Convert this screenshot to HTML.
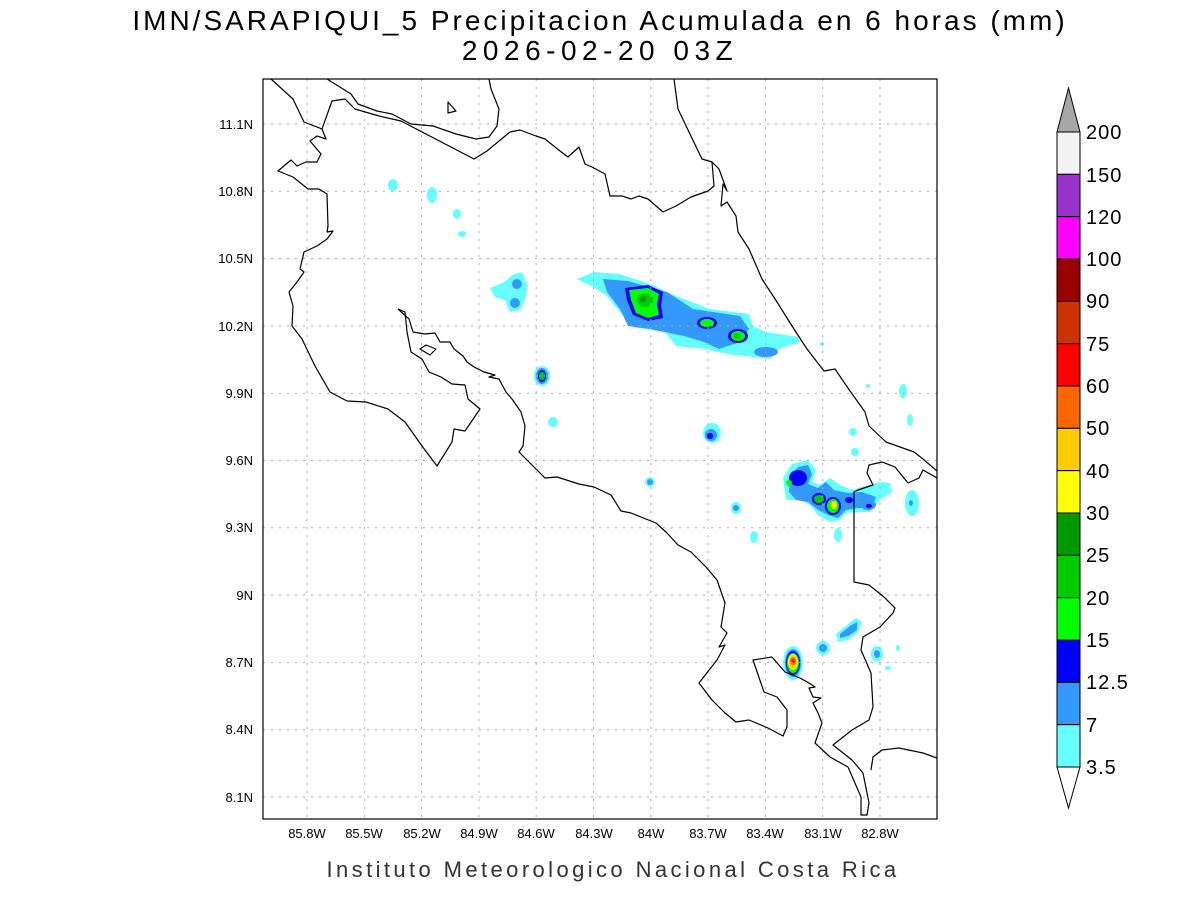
<!DOCTYPE html>
<html><head><meta charset="utf-8"><style>
html,body{margin:0;padding:0;background:#fff;}
svg{display:block;}
text{font-family:"Liberation Sans",sans-serif;}
</style></head><body>
<svg width="1200" height="900" viewBox="0 0 1200 900" xmlns="http://www.w3.org/2000/svg">
<rect width="1200" height="900" fill="#fff"/>
<text x="600" y="30" font-size="28" text-anchor="middle" letter-spacing="3">IMN/SARAPIQUI_5 Precipitacion Acumulada en 6 horas (mm)</text>
<text x="600" y="60" font-size="28" text-anchor="middle" letter-spacing="5.5">2026-02-20 03Z</text>

<defs><clipPath id="c"><rect x="263" y="79" width="674" height="740"/></clipPath></defs>
<g clip-path="url(#c)">
<g stroke="none">
<ellipse cx="393" cy="185" rx="5" ry="6" fill="#66ffff"/>
<ellipse cx="432" cy="195" rx="5" ry="8" fill="#66ffff"/>
<ellipse cx="457" cy="214" rx="4" ry="5" fill="#66ffff"/>
<ellipse cx="462" cy="234" rx="4" ry="3" fill="#66ffff"/>
<polygon points="490,288 505,282 512,275 522,272 528,285 525,300 520,310 510,312 505,300 495,297" fill="#66ffff"/>
<ellipse cx="517" cy="284" rx="5" ry="5" fill="#3399ff"/>
<ellipse cx="515" cy="303" rx="5" ry="5" fill="#3399ff"/>
<ellipse cx="542" cy="376" rx="8" ry="10" fill="#66ffff"/>
<ellipse cx="542" cy="376" rx="6" ry="8" fill="#3399ff"/>
<ellipse cx="542" cy="376" rx="4" ry="6" fill="#0000ff"/>
<ellipse cx="542" cy="376" rx="3" ry="4" fill="#00cc00"/>
<ellipse cx="553" cy="422" rx="5" ry="5" fill="#66ffff"/>
<ellipse cx="650" cy="482" rx="5" ry="5" fill="#66ffff"/>
<ellipse cx="650" cy="482" rx="3" ry="3" fill="#3399ff"/>
<ellipse cx="712" cy="433" rx="9" ry="10" fill="#66ffff"/>
<ellipse cx="711" cy="435" rx="6" ry="6" fill="#3399ff"/>
<ellipse cx="710" cy="436" rx="3" ry="3" fill="#0000ff"/>
<ellipse cx="736" cy="508" rx="5" ry="6" fill="#66ffff"/>
<ellipse cx="736" cy="508" rx="3" ry="3" fill="#3399ff"/>
<ellipse cx="754" cy="537" rx="4" ry="6" fill="#66ffff"/>
<polygon points="577,279 594,272 620,274 650,284 676,296 710,309 749,314 753,326 766,332 798,337 800,342 779,349 770,359 753,357 727,354 706,349 676,346 665,332 633,327 620,312 607,296 592,286" fill="#66ffff"/>
<polygon points="603,279 628,281 667,292 693,309 740,316 749,329 740,342 719,349 704,342 684,336 650,329 628,326 620,309 607,292" fill="#3399ff"/>
<ellipse cx="766" cy="352" rx="12" ry="5" fill="#3399ff"/>
<polygon points="625,288 648,285 663,292 661,305 663,318 648,321 633,315 627,300" fill="#0000ff"/>
<polygon points="629,290 648,288 659,294 657,305 659,315 648,318 636,313 631,300" fill="#00ff00"/>
<ellipse cx="645" cy="300" rx="8" ry="7" fill="#00cc00"/>
<ellipse cx="643" cy="299" rx="3" ry="3" fill="#009900"/>
<ellipse cx="707" cy="323" rx="10" ry="6" fill="#0000ff"/>
<ellipse cx="707" cy="323" rx="7" ry="4" fill="#00ff00"/>
<ellipse cx="738" cy="336" rx="10" ry="7" fill="#0000ff"/>
<ellipse cx="738" cy="336" rx="7" ry="5" fill="#00ff00"/>
<ellipse cx="737" cy="336" rx="4" ry="3" fill="#00cc00"/>
<polygon points="783,478 792,464 808,460 816,470 812,482 820,485 830,478 840,485 852,490 868,485 880,482 890,483 892,492 880,500 870,512 858,512 846,513 840,520 830,522 818,515 810,505 800,500 786,500" fill="#66ffff"/>
<polygon points="790,478 798,467 808,465 812,474 808,484 818,488 826,482 834,490 848,493 862,492 876,497 872,508 858,508 846,510 838,518 828,515 818,510 808,502 796,500 789,492" fill="#3399ff"/>
<ellipse cx="798" cy="478" rx="9" ry="8" fill="#0000ff"/>
<ellipse cx="789" cy="483" rx="3" ry="3" fill="#00ff00"/>
<ellipse cx="819" cy="499" rx="7" ry="6" fill="#0000ff"/>
<ellipse cx="819" cy="499" rx="5" ry="4" fill="#00cc00"/>
<ellipse cx="833" cy="506" rx="8" ry="9" fill="#0000ff"/>
<ellipse cx="833" cy="506" rx="6" ry="7" fill="#00ff00"/>
<ellipse cx="834" cy="505" rx="3" ry="4" fill="#ffff00"/>
<ellipse cx="849" cy="500" rx="4" ry="3" fill="#0000ff"/>
<ellipse cx="868" cy="505" rx="8" ry="5" fill="#3399ff"/>
<ellipse cx="869" cy="506" rx="3" ry="2" fill="#0000ff"/>
<ellipse cx="912" cy="503" rx="7" ry="13" fill="#66ffff"/>
<ellipse cx="911" cy="503" rx="2" ry="3" fill="#3399ff"/>
<ellipse cx="885" cy="489" rx="5" ry="4" fill="#66ffff"/>
<ellipse cx="838" cy="535" rx="4" ry="7" fill="#66ffff"/>
<ellipse cx="853" cy="432" rx="4" ry="4" fill="#66ffff"/>
<ellipse cx="855" cy="452" rx="4" ry="4" fill="#66ffff"/>
<ellipse cx="903" cy="391" rx="4" ry="7" fill="#66ffff"/>
<ellipse cx="910" cy="420" rx="3" ry="6" fill="#66ffff"/>
<ellipse cx="868" cy="386" rx="2" ry="2" fill="#66ffff"/>
<ellipse cx="822" cy="344" rx="2" ry="2" fill="#66ffff"/>
<ellipse cx="793" cy="663" rx="10" ry="17" fill="#66ffff"/>
<ellipse cx="793" cy="663" rx="8" ry="14" fill="#3399ff"/>
<ellipse cx="793" cy="663" rx="7" ry="12" fill="#0000ff"/>
<ellipse cx="793" cy="663" rx="6" ry="10" fill="#00ff00"/>
<ellipse cx="793" cy="662" rx="5" ry="8" fill="#ffff00"/>
<ellipse cx="793" cy="662" rx="4" ry="6" fill="#ffcc00"/>
<ellipse cx="793" cy="661" rx="3" ry="4" fill="#ff6600"/>
<ellipse cx="793" cy="661" rx="1.5" ry="2" fill="#ff0000"/>
<polygon points="836,634 848,624 856,618 862,622 858,632 848,640 838,642" fill="#66ffff"/>
<polygon points="840,634 850,626 857,622 857,630 848,636 840,638" fill="#3399ff"/>
<ellipse cx="823" cy="648" rx="7" ry="7" fill="#66ffff"/>
<ellipse cx="823" cy="648" rx="4" ry="4" fill="#3399ff"/>
<ellipse cx="877" cy="654" rx="6" ry="8" fill="#66ffff"/>
<ellipse cx="877" cy="654" rx="3" ry="4" fill="#3399ff"/>
<ellipse cx="888" cy="668" rx="3" ry="2" fill="#66ffff"/>
<ellipse cx="898" cy="648" rx="2" ry="3" fill="#66ffff"/>
</g>

<g stroke="#aaa" stroke-width="1" stroke-dasharray="2,6" fill="none">
<path d="M307,79V819M364.3,79V819M421.6,79V819M478.9,79V819M536.2,79V819M593.5,79V819M650.8,79V819M708.1,79V819M765.4,79V819M822.7,79V819M880,79V819"/>
<path d="M263,124H937M263,191.3H937M263,258.6H937M263,325.9H937M263,393.2H937M263,460.5H937M263,527.8H937M263,595.1H937M263,662.4H937M263,729.7H937M263,797H937"/>
</g>

<g stroke="#000" stroke-width="1.2" fill="none" stroke-linejoin="round">
<polyline points="271,79 293,99 304,122 322,129 326,139 317,136 310,141 321,154 317,162 306,162 297,166 291,160 278,171 293,177 308,189 319,189 327,194 328,226 327,232 333,231 327,239 317,246 304,252 300,269 304,272 297,282 289,292 293,306 292,326 302,339 315,366 330,392 347,401 366,402 388,409 405,422 422,446 437,466 452,442 454,429 465,431 480,409 468,399 465,385 452,384 441,377 429,372 422,359 411,352 407,332 405,312 398,309"/>
<polyline points="398,309 409,319 413,332 425,334 435,333 440,342 450,342 454,349 463,356 467,362 474,367 484,372 495,375 489,377 499,379 506,392 512,399 521,412 525,426 523,446 519,452 534,467 545,478 557,477 579,484 594,487 611,495 621,511 631,513 656,523 667,533 678,545 691,552 706,567 717,580 725,603 721,627 727,633 719,647 725,645 717,660 699,683 712,700 725,713 736,722 749,720 768,728 783,736 787,727 787,710 777,697 764,692 753,660 772,657 785,672 800,678 809,683 815,687 809,688 813,697 821,698 813,703 818,713 822,723 815,743 830,757 848,767 861,797 861,815 867,815 869,803 863,773 852,760 833,745 852,730 869,720 873,707 871,673 861,650 863,637 880,627 893,613 895,608 884,597 869,585 854,582 854,492 858,490 873,485 867,473 869,465 882,462 895,467 908,483 919,478 923,470 937,478"/>
<polyline points="871,770 873,757 882,750 899,748 923,753 937,758"/>
<polygon points="420,349 426,345 436,349 430,355"/>
<polygon points="448,102 456,111 448,113"/>
<polyline points="327,79 351,94 358,104 377,111 392,114 411,124 433,126 456,134 476,139 489,137 497,126 499,109 491,89 489,79"/>
<polyline points="322,129 332,101 345,99 355,109 379,116 401,121 474,159 487,151 510,132 520,130 536,136 545,139 560,151 568,157 579,147 585,164 592,167 605,174 610,196 622,196 631,199 639,196 648,199 663,212 676,206 691,197 708,191 714,186 712,162"/>
<polyline points="674,79 678,109 689,132 702,159 712,162 719,169 727,191 723,184 721,206 727,202 736,216 738,232 749,249 762,279 777,302 792,326 807,349 824,371 835,369 850,391 865,412 869,426 886,442 914,452 923,459 937,471"/>
</g>
</g>
<rect x="263" y="79" width="674" height="740" fill="none" stroke="#000" stroke-width="1.2"/>

<g font-size="13" text-anchor="middle">
<text x="307" y="838">85.8W</text><text x="364" y="838">85.5W</text><text x="422" y="838">85.2W</text><text x="479" y="838">84.9W</text><text x="536" y="838">84.6W</text><text x="594" y="838">84.3W</text><text x="651" y="838">84W</text><text x="708" y="838">83.7W</text><text x="765" y="838">83.4W</text><text x="823" y="838">83.1W</text><text x="880" y="838">82.8W</text>
</g>
<g font-size="13" text-anchor="end">
<text x="253" y="129">11.1N</text><text x="253" y="196">10.8N</text><text x="253" y="263">10.5N</text><text x="253" y="331">10.2N</text><text x="253" y="398">9.9N</text><text x="253" y="465">9.6N</text><text x="253" y="532">9.3N</text><text x="253" y="600">9N</text><text x="253" y="667">8.7N</text><text x="253" y="734">8.4N</text><text x="253" y="802">8.1N</text>
</g>
<text x="613" y="877" font-size="22" text-anchor="middle" letter-spacing="3.4" fill="#333">Instituto Meteorologico Nacional Costa Rica</text>

<g stroke="#000" stroke-width="1">
<polygon points="1057,132 1068.5,88 1080,132" fill="#a6a6a6"/>
<rect x="1057" y="132" width="23" height="42.33" fill="#f2f2f2"/>
<rect x="1057" y="174.33" width="23" height="42.33" fill="#9933cc"/>
<rect x="1057" y="216.67" width="23" height="42.33" fill="#ff00ff"/>
<rect x="1057" y="259" width="23" height="42.33" fill="#990000"/>
<rect x="1057" y="301.33" width="23" height="42.33" fill="#cc3300"/>
<rect x="1057" y="343.67" width="23" height="42.33" fill="#ff0000"/>
<rect x="1057" y="386" width="23" height="42.33" fill="#ff6600"/>
<rect x="1057" y="428.33" width="23" height="42.33" fill="#ffcc00"/>
<rect x="1057" y="470.67" width="23" height="42.33" fill="#ffff00"/>
<rect x="1057" y="513" width="23" height="42.33" fill="#009900"/>
<rect x="1057" y="555.33" width="23" height="42.33" fill="#00cc00"/>
<rect x="1057" y="597.67" width="23" height="42.33" fill="#00ff00"/>
<rect x="1057" y="640" width="23" height="42.33" fill="#0000ff"/>
<rect x="1057" y="682.33" width="23" height="42.33" fill="#3399ff"/>
<rect x="1057" y="724.67" width="23" height="42.33" fill="#66ffff"/>
<polygon points="1057,767 1068.5,808 1080,767" fill="#fff"/>
</g>
<g font-size="20" letter-spacing="1">
<text x="1086" y="139">200</text><text x="1086" y="182">150</text><text x="1086" y="224">120</text><text x="1086" y="266">100</text><text x="1086" y="308">90</text><text x="1086" y="351">75</text><text x="1086" y="393">60</text><text x="1086" y="435">50</text><text x="1086" y="478">40</text><text x="1086" y="520">30</text><text x="1086" y="562">25</text><text x="1086" y="605">20</text><text x="1086" y="647">15</text><text x="1086" y="689">12.5</text><text x="1086" y="732">7</text><text x="1086" y="774">3.5</text>
</g>
</svg>
</body></html>
